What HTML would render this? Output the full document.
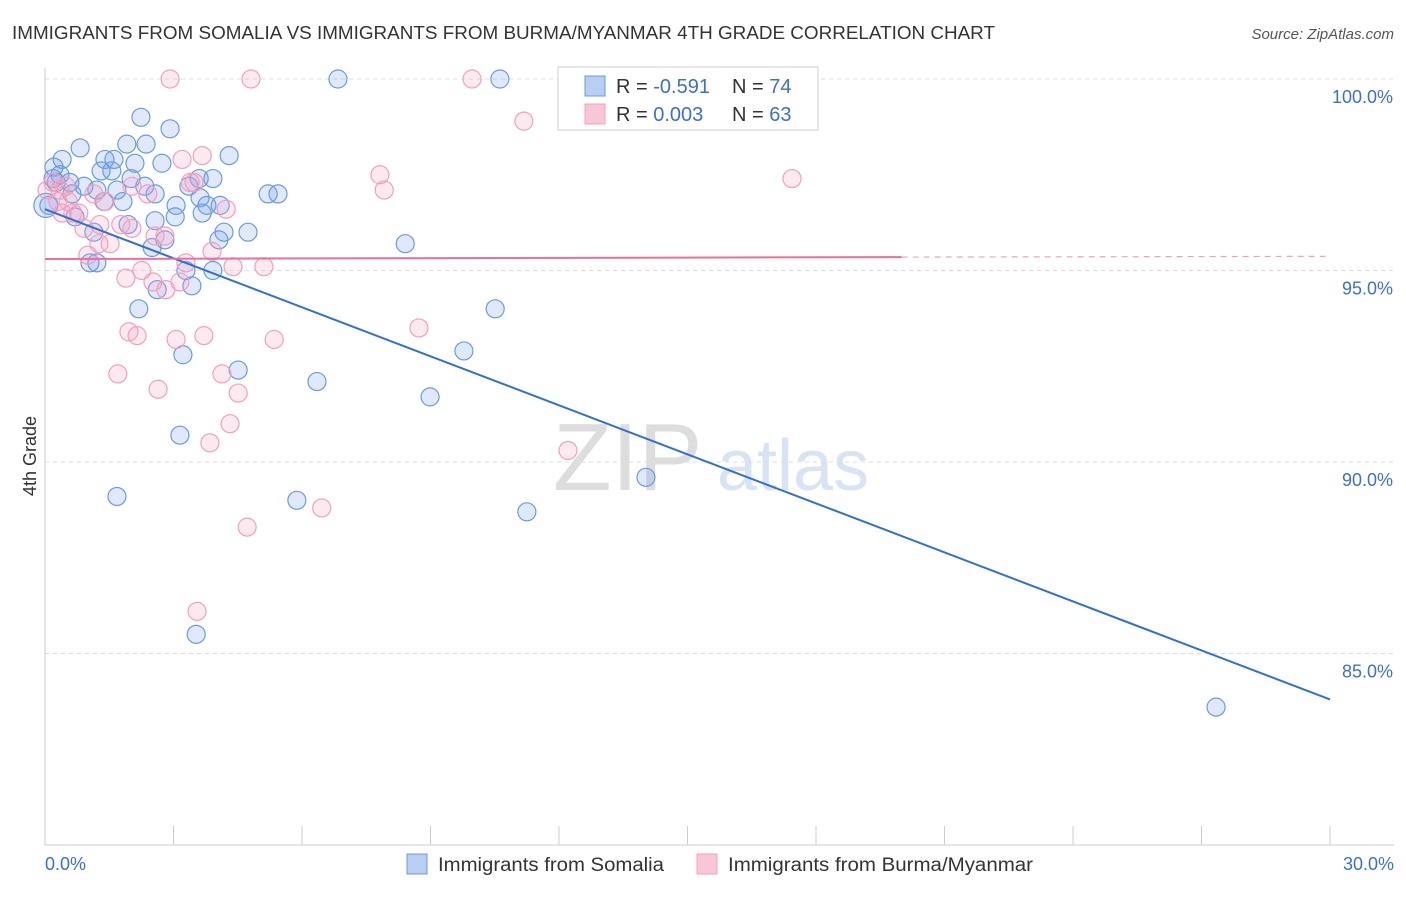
<!DOCTYPE html>
<html><head><meta charset="utf-8"><style>
body{margin:0;background:#fff;font-family:"Liberation Sans",sans-serif}
svg text{font-family:"Liberation Sans",sans-serif}
</style></head><body>
<svg id="c" width="1406" height="892" xmlns="http://www.w3.org/2000/svg">
<text x="12" y="39" font-size="18" fill="#333" textLength="983" lengthAdjust="spacingAndGlyphs">IMMIGRANTS FROM SOMALIA VS IMMIGRANTS FROM BURMA/MYANMAR 4TH GRADE CORRELATION CHART</text>
<text x="1394" y="39" font-size="15" fill="#555" font-style="italic" text-anchor="end">Source: ZipAtlas.com</text>
<text x="36" y="456" font-size="18" fill="#333" transform="rotate(-90 36 456)" text-anchor="middle">4th Grade</text>
<g><text x="553" y="490" font-size="96" fill="#ddd" font-family="Liberation Serif">ZIP</text><text x="717" y="490" font-size="72" fill="#d6e4f5">atlas</text></g>
<g id="grid"></g>
<g id="axes"></g>
<g id="pts"></g>
<g id="trend"></g>
<g>
<rect x="558" y="67" width="260" height="63" fill="#fff" stroke="#ccc"/>
<rect x="585" y="76" width="20" height="20" fill="#b8cef3" stroke="#6a9be0"/>
<rect x="585" y="104" width="20" height="20" fill="#f8c6d6" stroke="#f0a0bc"/>
<text x="616" y="93" font-size="20" fill="#333">R = <tspan fill="#3b6fd0">-0.591</tspan></text>
<text x="732" y="93" font-size="20" fill="#333">N = <tspan fill="#3b6fd0">74</tspan></text>
<text x="616" y="121" font-size="20" fill="#333">R = <tspan fill="#3b6fd0">0.003</tspan></text>
<text x="732" y="121" font-size="20" fill="#333">N = <tspan fill="#3b6fd0">63</tspan></text>
</g>
<g>
<rect x="407" y="854" width="20" height="20" fill="#b8cef3" stroke="#6a9be0"/>
<text x="438" y="871" font-size="19" fill="#333" textLength="226" lengthAdjust="spacingAndGlyphs">Immigrants from Somalia</text>
<rect x="697" y="854" width="20" height="20" fill="#f8c6d6" stroke="#f0a0bc"/>
<text x="728" y="871" font-size="19" fill="#333" textLength="305" lengthAdjust="spacingAndGlyphs">Immigrants from Burma/Myanmar</text>
</g>
</svg>
<script>
const yTicks=[100,95,90,85];
const xTickLabels=["0.0%","30.0%"];
const blueX=[6.84,10.62,2.24,2.92,0.82,1.91,2.36,4.30,0.40,1.40,1.61,0.21,1.31,2.10,2.73,1.56,0.35,0.19,2.01,3.60,3.92,0.58,0.26,0.91,2.33,3.36,1.21,1.68,5.21,5.44,2.57,0.63,3.62,1.38,1.82,3.78,4.09,3.06,0.09,0.70,3.04,3.67,2.57,1.94,1.14,4.18,4.74,2.80,4.06,2.50,8.41,1.05,1.21,3.29,3.92,2.62,3.43,10.51,2.19,9.78,3.22,4.51,6.35,8.99,3.15,14.03,1.68,5.88,11.25,3.53,27.34,0.02];
const blueY=[100,100,99.0,98.7,98.2,98.3,98.3,98.0,97.9,97.9,97.9,97.7,97.6,97.8,97.8,97.6,97.5,97.4,97.4,97.4,97.4,97.3,97.3,97.2,97.2,97.2,97.1,97.1,97.0,97.0,97.0,97.0,96.9,96.8,96.8,96.7,96.7,96.7,96.7,96.4,96.4,96.5,96.3,96.2,96.0,96.0,96.0,95.8,95.8,95.6,95.7,95.2,95.2,95.0,95.0,94.5,94.6,94.0,94.0,92.9,92.8,92.4,92.1,91.7,90.7,89.6,89.1,89.0,88.7,85.5,83.6,96.7];
const pinkX=[2.92,4.81,9.97,11.18,3.67,3.20,7.82,17.44,7.92,0.19,0.05,0.35,0.49,1.14,2.03,3.39,3.48,2.40,0.30,0.54,1.40,4.23,0.65,0.79,0.40,0.91,1.28,1.77,2.03,2.57,1.52,2.80,1.26,3.90,1.00,3.29,2.26,5.11,4.39,1.89,3.15,2.52,2.82,8.73,1.96,2.15,3.71,5.35,3.06,1.70,4.13,4.51,2.64,4.32,3.85,12.21,6.46,4.72,3.55];
const pinkY=[100,100,100,98.9,98.0,97.9,97.5,97.4,97.1,97.3,97.1,97.1,97.2,97.0,97.2,97.3,97.3,97.0,96.8,96.8,96.8,96.6,96.5,96.5,96.5,96.1,96.2,96.2,96.1,95.9,95.7,95.9,95.7,95.5,95.4,95.2,95.0,95.1,95.1,94.8,94.7,94.7,94.5,93.5,93.4,93.3,93.3,93.2,93.2,92.3,92.3,91.8,91.9,91.0,90.5,90.3,88.8,88.3,86.1];
const blueTrend=[0,96.6,30,83.8];
const pinkTrend=[0,95.3,20,95.35,30,95.37];
const NS="http://www.w3.org/2000/svg";
const xs=v=>45+v/30*1285, ys=v=>79+(100-v)/5*191.5;
function mk(p,t,a){const e=document.createElementNS(NS,t);for(const k in a)e.setAttribute(k,a[k]);document.getElementById(p).appendChild(e);return e;}
yTicks.forEach(v=>{
 const l=mk('grid','line',{x1:45,x2:1394,y1:ys(v),y2:ys(v),stroke:'#ddd','stroke-dasharray':'4,4'});
 
 
 const t=mk('grid','text',{x:1393,y:ys(v)+24,'font-size':18,fill:'#3b6fd0','text-anchor':'end'});t.textContent=v.toFixed(1)+'%';
 
 
});
mk('axes','line',{x1:45,x2:45,y1:68,y2:845,stroke:'#ccc'});
mk('axes','line',{x1:45,x2:1394,y1:845,y2:845,stroke:'#ccc'});
for(let i=0;i<=10;i++){const x=xs(i*3);const l=mk('axes','line',{x1:x,x2:x,y1:826,y2:845,stroke:'#ccc'});
 
 }
const t0=mk('axes','text',{x:45,y:870,'font-size':18,fill:'#3b6fd0'});t0.textContent=xTickLabels[0];


const t1=mk('axes','text',{x:1394,y:870,'font-size':18,fill:'#3b6fd0','text-anchor':'end'});t1.textContent=xTickLabels[1];


blueX.forEach((v,i)=>{const c=mk('pts','circle',{cx:xs(v),cy:ys(blueY[i]),r:(i==blueX.length-1?12:9),fill:'rgba(110,155,235,0.22)',stroke:'#6a9be0','stroke-width':1.2});
 
 });
pinkX.forEach((v,i)=>{const c=mk('pts','circle',{cx:xs(v),cy:ys(pinkY[i]),r:9,fill:'rgba(245,160,190,0.22)',stroke:'#f0a0bc','stroke-width':1.2});
 
 });
const bl=mk('trend','line',{x1:xs(blueTrend[0]),y1:ys(blueTrend[1]),x2:xs(blueTrend[2]),y2:ys(blueTrend[3]),stroke:'#2f6fd6','stroke-width':2});


const pl=mk('trend','line',{x1:xs(pinkTrend[0]),y1:ys(pinkTrend[1]),x2:xs(pinkTrend[2]),y2:ys(pinkTrend[3]),stroke:'#e8709a','stroke-width':2});


const pd=mk('trend','line',{x1:xs(pinkTrend[2]),y1:ys(pinkTrend[3]),x2:xs(pinkTrend[4]),y2:ys(pinkTrend[5]),stroke:'#f0a0bc','stroke-width':1.2,'stroke-dasharray':'6,5'});


</script>
</body></html>
